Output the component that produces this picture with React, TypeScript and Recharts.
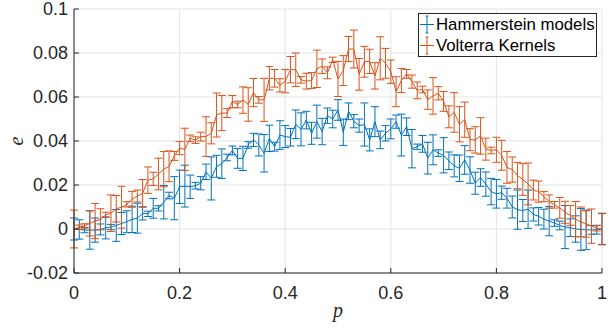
import React from 'react';
import { LineChart, Line, XAxis, YAxis, CartesianGrid, ErrorBar, Legend } from 'recharts';

const pValues = [
  0.0, 0.01, 0.02, 0.03, 0.04, 0.05, 0.06, 0.07, 0.08, 0.09,
  0.1, 0.11, 0.12, 0.13, 0.14, 0.15, 0.16, 0.17, 0.18, 0.19,
  0.2, 0.21, 0.22, 0.23, 0.24, 0.25, 0.26, 0.27, 0.28, 0.29,
  0.3, 0.31, 0.32, 0.33, 0.34, 0.35, 0.36, 0.37, 0.38, 0.39,
  0.4, 0.41, 0.42, 0.43, 0.44, 0.45, 0.46, 0.47, 0.48, 0.49,
  0.5, 0.51, 0.52, 0.53, 0.54, 0.55, 0.56, 0.57, 0.58, 0.59,
  0.6, 0.61, 0.62, 0.63, 0.64, 0.65, 0.66, 0.67, 0.68, 0.69,
  0.7, 0.71, 0.72, 0.73, 0.74, 0.75, 0.76, 0.77, 0.78, 0.79,
  0.8, 0.81, 0.82, 0.83, 0.84, 0.85, 0.86, 0.87, 0.88, 0.89,
  0.9, 0.91, 0.92, 0.93, 0.94, 0.95, 0.96, 0.97, 0.98, 0.99,
  1.0,
];

const hammersteinMean = [
  0.0, -0.0002, -0.0005, -0.0005, -0.0005, -0.0002, 0.0005, 0.0009, 0.0016, 0.0025,
  0.0033, 0.0044, 0.0049, 0.0071, 0.0069, 0.0094, 0.0094, 0.0122, 0.0152, 0.014,
  0.0192, 0.0195, 0.0192, 0.0197, 0.0208, 0.026, 0.023, 0.0285, 0.0297, 0.0325,
  0.0357, 0.0321, 0.0321, 0.0382, 0.0405, 0.0382, 0.0344, 0.0412, 0.0374, 0.0427,
  0.042, 0.0417, 0.0476, 0.0453, 0.0495, 0.0435, 0.0488, 0.0443, 0.0515, 0.05,
  0.0541, 0.044, 0.0535, 0.049, 0.047, 0.0475, 0.0405, 0.0488, 0.0405, 0.0435,
  0.0455, 0.0488, 0.0427, 0.0465, 0.0365, 0.0374, 0.0387, 0.0322, 0.036, 0.0345,
  0.0335, 0.031, 0.0287, 0.0276, 0.0314, 0.0268, 0.0208, 0.0234, 0.0204, 0.017,
  0.016, 0.0165, 0.014, 0.01, 0.0088, 0.0084, 0.009, 0.0066, 0.0058, 0.0045,
  0.0036, 0.0027, 0.0016, 0.0009, 0.0006, 0.0, -0.0002, -0.0004, -0.0004, -0.0003,
  0.0,
];

const hammersteinErr = [
  0.005, 0.0044, 0.0012, 0.0087, 0.0055, 0.0025, 0.005, 0.0012, 0.0072, 0.005,
  0.005, 0.006, 0.0068, 0.003, 0.0012, 0.0045, 0.0012, 0.0076, 0.0015, 0.0098,
  0.0076, 0.0095, 0.0053, 0.0015, 0.003, 0.0035, 0.0098, 0.005, 0.0067, 0.0015,
  0.002, 0.0045, 0.0055, 0.0015, 0.003, 0.005, 0.0085, 0.006, 0.002, 0.0065,
  0.005, 0.004, 0.0065, 0.0075, 0.004, 0.005, 0.0075, 0.006, 0.0035, 0.004,
  0.0047, 0.006, 0.0038, 0.003, 0.003, 0.0098, 0.005, 0.0068, 0.004, 0.0035,
  0.0045, 0.003, 0.0095, 0.004, 0.0087, 0.0012, 0.0038, 0.0072, 0.0068, 0.0015,
  0.008, 0.004, 0.005, 0.006, 0.0065, 0.006, 0.005, 0.004, 0.0055, 0.006,
  0.0065, 0.003, 0.0045, 0.005, 0.0089, 0.005, 0.0087, 0.003, 0.004, 0.0045,
  0.0067, 0.0015, 0.002, 0.0098, 0.004, 0.006, 0.0095, 0.009, 0.002, 0.002,
  0.007,
];

const volterraMean = [
  0.0, 0.0008, 0.0014, 0.0026, 0.0036, 0.0044, 0.0064, 0.0072, 0.0092, 0.0099,
  0.0112, 0.0135, 0.015, 0.0162, 0.0222, 0.0228, 0.025, 0.0272, 0.0285, 0.0332,
  0.0368, 0.0362, 0.0412, 0.0404, 0.042, 0.042, 0.0435, 0.0518, 0.0527, 0.0527,
  0.0579, 0.0566, 0.0586, 0.0566, 0.062, 0.0587, 0.0587, 0.0685, 0.0685, 0.0653,
  0.0672, 0.0724, 0.0724, 0.0678, 0.0672, 0.0675, 0.0728, 0.074, 0.071, 0.0769,
  0.0682, 0.072, 0.0818, 0.0818, 0.0703, 0.076, 0.0762, 0.0696, 0.0776, 0.0753,
  0.0715, 0.0624, 0.0675, 0.0705, 0.067, 0.063, 0.0634, 0.0588, 0.0605, 0.0617,
  0.058, 0.051, 0.053, 0.0476, 0.0497, 0.0406, 0.0405, 0.0423, 0.0363, 0.0357,
  0.036, 0.0335, 0.028, 0.027, 0.0243, 0.0225, 0.0205, 0.0177, 0.017, 0.0147,
  0.0125, 0.011, 0.0096, 0.0076, 0.0062, 0.0045, 0.0032, 0.0023, 0.0013, 0.0003,
  0.0,
];

const volterraErr = [
  0.0086, 0.001, 0.001, 0.0058, 0.008, 0.0048, 0.0012, 0.0083, 0.006, 0.0095,
  0.0012, 0.0036, 0.0027, 0.0063, 0.006, 0.003, 0.0072, 0.008, 0.007, 0.002,
  0.003, 0.0096, 0.0015, 0.0015, 0.002, 0.009, 0.0048, 0.01, 0.008, 0.002,
  0.0028, 0.0015, 0.006, 0.0076, 0.0064, 0.0015, 0.0098, 0.0053, 0.004, 0.003,
  0.0053, 0.006, 0.0076, 0.0015, 0.0036, 0.0036, 0.0085, 0.0033, 0.0027, 0.0012,
  0.008, 0.0068, 0.0057, 0.0086, 0.0072, 0.007, 0.0055, 0.006, 0.0098, 0.0068,
  0.0053, 0.0068, 0.0055, 0.002, 0.003, 0.0038, 0.0015, 0.0044, 0.0083, 0.003,
  0.0045, 0.005, 0.009, 0.008, 0.008, 0.005, 0.006, 0.0083, 0.005, 0.0015,
  0.0057, 0.0068, 0.0072, 0.0057, 0.006, 0.0072, 0.0095, 0.0045, 0.0048, 0.0023,
  0.003, 0.0015, 0.0047, 0.005, 0.0045, 0.008, 0.0068, 0.006, 0.0078, 0.0012,
  0.0072,
];

const xTicks = [0, 0.2, 0.4, 0.6, 0.8, 1];
const yTicks = [-0.02, 0, 0.02, 0.04, 0.06, 0.08, 0.1];
const seriesNames = ['Hammerstein models', 'Volterra Kernels'];
const xLabel = 'p';
const yLabel = 'e';

const data = pValues.map((p, i) => ({
  p,
  h: hammersteinMean[i],
  hErr: hammersteinErr[i],
  v: volterraMean[i],
  vErr: volterraErr[i],
}));

const BLUE = '#0072BD';
const ORANGE = '#D95319';
const AXIS = '#262626';
const SANS = '"Liberation Sans", Arial, Helvetica, sans-serif';
const SERIF = '"Liberation Serif", "Times New Roman", serif';
const TICK_FS = 18;
const TICK_LEN = 5;

const BottomTick = (props: any) => {
  const { x, y, payload } = props;
  return (
    <g>
      <line x1={x} y1={y} x2={x} y2={y - TICK_LEN} stroke={AXIS} strokeWidth={1} />
      <text x={x} y={y + 26} textAnchor="middle" fontSize={TICK_FS} fill={AXIS} fontFamily={SANS}>
        {String(payload.value)}
      </text>
    </g>
  );
};

const TopTick = (props: any) => {
  const { x, y } = props;
  return <line x1={x} y1={y} x2={x} y2={y + TICK_LEN} stroke={AXIS} strokeWidth={1} />;
};

const LeftTick = (props: any) => {
  const { x, y, payload } = props;
  return (
    <g>
      <line x1={x} y1={y} x2={x + TICK_LEN} y2={y} stroke={AXIS} strokeWidth={1} />
      <text x={x - 6} y={y + 6.4} textAnchor="end" fontSize={TICK_FS} fill={AXIS} fontFamily={SANS}>
        {String(payload.value)}
      </text>
    </g>
  );
};

const RightTick = (props: any) => {
  const { x, y } = props;
  return <line x1={x} y1={y} x2={x - TICK_LEN} y2={y} stroke={AXIS} strokeWidth={1} />;
};

const renderLegend = (props: any) => {
  const { payload } = props;
  return (
    <div
      style={{
        border: `1px solid ${AXIS}`,
        background: '#fff',
        width: 177,
        height: 42,
        fontFamily: SANS,
        fontSize: 16.8,
        color: '#000',
        boxSizing: 'content-box',
      }}
    >
      {(payload || []).map((entry: any, i: number) => (
        <div key={i} style={{ display: 'flex', alignItems: 'center', height: 21, lineHeight: '21px' }}>
          <svg width={17} height={21} style={{ display: 'block', flex: 'none' }}>
            <line x1={1} y1={10.5} x2={15} y2={10.5} stroke={entry.color} strokeWidth={1} />
            <line x1={8} y1={2} x2={8} y2={19} stroke={entry.color} strokeWidth={1} />
            <line x1={6.5} y1={2} x2={9.5} y2={2} stroke={entry.color} strokeWidth={1} />
            <line x1={6.5} y1={19} x2={9.5} y2={19} stroke={entry.color} strokeWidth={1} />
          </svg>
          <span style={{ whiteSpace: 'nowrap' }}>{entry.value}</span>
        </div>
      ))}
    </div>
  );
};

const YLabelContent = (props: any) => {
  const vb = props.viewBox || {};
  const cx = 16;
  const cy = (vb.y || 0) + (vb.height || 0) / 2;
  return (
    <text
      x={cx}
      y={cy}
      transform={`rotate(-90 ${cx} ${cy})`}
      textAnchor="middle"
      dominantBaseline="central"
      fontSize={20}
      fontStyle="italic"
      fontFamily={SERIF}
      fill={AXIS}
    >
      {yLabel}
    </text>
  );
};

const XLabelContent = (props: any) => {
  const vb = props.viewBox || {};
  const cx = (vb.x || 0) + (vb.width || 0) / 2;
  return (
    <text x={cx} y={317} textAnchor="middle" fontSize={20} fontStyle="italic" fontFamily={SERIF} fill={AXIS}>
      {xLabel}
    </text>
  );
};

export default function App() {
  return (
    <div style={{ position: 'absolute', left: 0, top: 0, width: 609, height: 328, background: '#fff' }}>
      <LineChart
        width={609}
        height={328}
        data={data}
        margin={{ top: 9, right: 7, bottom: 10, left: 14 }}
      >
        <CartesianGrid stroke="#e3e3e3" strokeWidth={1} />
        <XAxis
          dataKey="p"
          type="number"
          domain={[0, 1]}
          ticks={xTicks}
          allowDataOverflow
          height={45}
          tickSize={0}
          tickMargin={0}
          tickLine={false}
          axisLine={{ stroke: AXIS, strokeWidth: 1 }}
          tick={BottomTick}
          interval={0}
          label={<XLabelContent />}
        />
        <XAxis
          xAxisId="top"
          orientation="top"
          dataKey="p"
          type="number"
          domain={[0, 1]}
          ticks={xTicks}
          allowDataOverflow
          height={0}
          tickSize={0}
          tickMargin={0}
          tickLine={false}
          axisLine={{ stroke: AXIS, strokeWidth: 1 }}
          tick={TopTick}
          interval={0}
        />
        <YAxis
          type="number"
          domain={[-0.02, 0.1]}
          ticks={yTicks}
          allowDataOverflow
          width={60}
          tickSize={0}
          tickMargin={0}
          tickLine={false}
          axisLine={{ stroke: AXIS, strokeWidth: 1 }}
          tick={LeftTick}
          interval={0}
          label={<YLabelContent />}
        />
        <YAxis
          yAxisId="right"
          orientation="right"
          type="number"
          domain={[-0.02, 0.1]}
          ticks={yTicks}
          allowDataOverflow
          width={0}
          tickSize={0}
          tickMargin={0}
          tickLine={false}
          axisLine={{ stroke: AXIS, strokeWidth: 1 }}
          tick={RightTick}
          interval={0}
        />
        <Line
          dataKey="h"
          name={seriesNames[0]}
          stroke={BLUE}
          strokeWidth={1}
          dot={false}
          activeDot={false}
          isAnimationActive={false}
        >
          <ErrorBar dataKey="hErr" direction="y" width={4} stroke={BLUE} strokeWidth={1} isAnimationActive={false} />
        </Line>
        <Line
          dataKey="v"
          name={seriesNames[1]}
          stroke={ORANGE}
          strokeWidth={1}
          dot={false}
          activeDot={false}
          isAnimationActive={false}
        >
          <ErrorBar dataKey="vErr" direction="y" width={4} stroke={ORANGE} strokeWidth={1} isAnimationActive={false} />
        </Line>
        <Legend
          layout="vertical"
          align="center"
          verticalAlign="middle"
          content={renderLegend}
          wrapperStyle={{ left: 418, top: 13, width: 179, height: 44 }}
        />
      </LineChart>
    </div>
  );
}
